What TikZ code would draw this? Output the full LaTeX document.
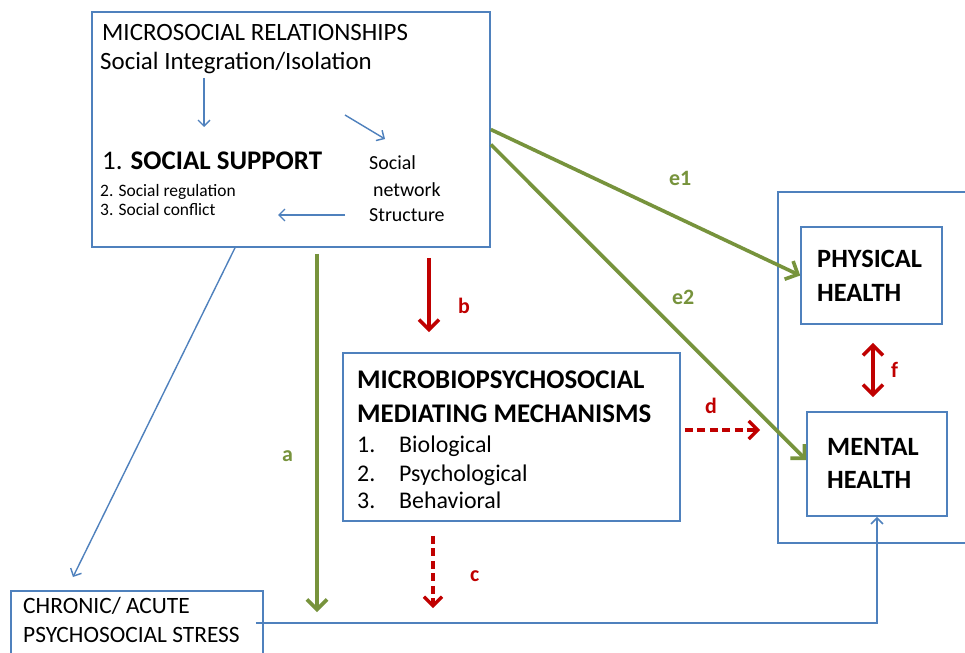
\documentclass[tikz,border=0pt]{standalone}
\usepackage{fontspec}
\setmainfont{Carlito}
\usetikzlibrary{arrows.meta}
\definecolor{frameblue}{RGB}{79,129,189}
\definecolor{pathgreen}{RGB}{119,147,60}
\definecolor{pathred}{RGB}{192,0,0}
\newcommand{\fsz}[1]{\fontsize{#1}{#1}\selectfont}

\begin{document}
\begin{tikzpicture}[x=1bp,y=-1bp,
  panel/.style={draw=frameblue, line width=1.6bp, inner sep=0pt},
  txt/.style={anchor=base west, inner sep=0pt},
  thinarrow/.style={draw=frameblue, line width=1.4bp, -{Straight Barb[length=6bp,width=12bp]}},
  greenarrow/.style={draw=pathgreen, line width=3.6bp, -{Straight Barb[length=10bp,width=20bp]}},
  redarrow/.style={draw=pathred, line width=3.6bp, -{Straight Barb[length=10bp,width=20bp]}},
  reddash/.style={draw=pathred, line width=3.2bp, dash pattern=on 8bp off 4.5bp, -{Straight Barb[length=9bp,width=18bp]}},
  greenlabel/.style={txt, text=pathgreen, font=\fsz{22}\bfseries},
  redlabel/.style={txt, text=pathred, font=\fsz{22}\bfseries}]
\useasboundingbox (0,0) rectangle (965,653);
\clip (0,0) rectangle (965,653);
\fill[white] (0,0) rectangle (965,653);

% boxes
\node[panel, minimum width=398bp, minimum height=235bp] (social) at (291,129.5) {};
\node[panel, minimum width=337bp, minimum height=168bp] (mid) at (511.5,437) {};
\node[panel, minimum width=222bp, minimum height=351bp] (health) at (889,367.5) {};
\node[panel, minimum width=141bp, minimum height=97bp] (physical) at (871.5,275.5) {};
\node[panel, minimum width=140bp, minimum height=104bp] (mental) at (877,464) {};
\node[panel, minimum width=252bp, minimum height=79bp] (stress) at (137,630.5) {};

% microsocial texts
\node[txt, font=\fsz{25}] (msr) at (102,41) {MICROSOCIAL RELATIONSHIPS};
\node[txt, font=\fsz{25}] (integ) at (100,70) {Social Integration/Isolation};
\node[txt, font=\fsz{27}] (support) at (102,170) {1. \textbf{SOCIAL SUPPORT}};
\node[txt, font=\fsz{17.5}] (regul) at (100,196) {2. Social regulation};
\node[txt, font=\fsz{17.5}] (confl) at (100,215) {3. Social conflict};
\node[txt, font=\fsz{20}] (netA) at (369,170) {Social};
\node[txt, font=\fsz{20}] (netB) at (373,196) {network};
\node[txt, font=\fsz{20}] (netC) at (369,221) {Structure};

% mediating texts
\node[txt, font=\fsz{27}\bfseries] (medA) at (357,388) {MICROBIOPSYCHOSOCIAL};
\node[txt, font=\fsz{27}\bfseries] (medB) at (357,422) {MEDIATING MECHANISMS};
\node[txt, font=\fsz{24}] (bioN) at (357,452) {1.};
\node[txt, font=\fsz{24}] (bio) at (399,452) {Biological};
\node[txt, font=\fsz{24}] (psyN) at (357,481) {2.};
\node[txt, font=\fsz{24}] (psy) at (399,481) {Psychological};
\node[txt, font=\fsz{24}] (behN) at (357,508) {3.};
\node[txt, font=\fsz{24}] (beh) at (399,508) {Behavioral};

% health texts
\node[txt, font=\fsz{26.5}\bfseries] (physA) at (817,267) {PHYSICAL};
\node[txt, font=\fsz{26.5}\bfseries] (physB) at (817,301) {HEALTH};
\node[txt, font=\fsz{26.5}\bfseries] (mentA) at (827,455) {MENTAL};
\node[txt, font=\fsz{26.5}\bfseries] (mentB) at (827,488) {HEALTH};

% stress texts
\node[txt, font=\fsz{23.5}] (strA) at (23,613) {CHRONIC/ ACUTE};
\node[txt, font=\fsz{23.5}] (strB) at (23,642) {PSYCHOSOCIAL STRESS};

% path labels
\node[greenlabel] (lblE1) at (669,186) {e1};
\node[greenlabel] (lblE2) at (672,304) {e2};
\node[greenlabel] (lblA) at (282,461) {a};
\node[redlabel] (lblB) at (458,313) {b};
\node[redlabel] (lblC) at (470,581) {c};
\node[redlabel] (lblD) at (705,413) {d};
\node[redlabel] (lblF) at (891,377) {f};

% free ends and guide coordinates
\coordinate (inA) at (204,78);
\coordinate (inB) at (204,127);
\coordinate (inC) at (345,115);
\coordinate (inD) at (385,139);
\coordinate (inE) at (345,215);
\coordinate (inF) at (278,215);
\coordinate (ax) at (317,0);
\coordinate (bx) at (429,0);
\coordinate (cx) at (433,0);
\coordinate (fx) at (873,0);
\coordinate (dx) at (0,430);
\coordinate (diagS) at (235,0);
\coordinate (diagE) at (73,577);
\coordinate (aEnd) at (317,612);
\coordinate (cEnd) at (433,608);
\coordinate (dEnd) at (760,430);

% arrows inside the microsocial box
\draw[thinarrow] (inA) -- (inB);
\draw[thinarrow] (inC) -- (inD);
\draw[thinarrow] (inE) -- (inF);

% green direct paths
\draw[greenarrow] (social.east) -- (physical.west);
\draw[greenarrow] ([yshift=-15bp]social.east) -- ([yshift=4bp]mental.west);
\draw[greenarrow, shorten <=6bp] (social.south -| ax) -- (aEnd);

% red mediated paths
\draw[redarrow, shorten <=10bp, shorten >=20bp] (social.south -| bx) -- (mid.north -| bx);
\draw[reddash, shorten <=14bp] (mid.south -| cx) -- (cEnd);
\draw[reddash, shorten <=4bp] (mid.east |- dx) -- (dEnd);
\draw[draw=pathred, line width=3.6bp, {Straight Barb[length=10bp,width=20bp]}-{Straight Barb[length=10bp,width=20bp]}, shorten <=18bp, shorten >=14bp] (physical.south -| fx) -- (mental.north -| fx);

% stress pathway
\draw[thinarrow] (social.south -| diagS) -- (diagE);
\draw[thinarrow, line width=1.6bp] ([xshift=-8bp,yshift=7.5bp]stress.east) -| (mental.south);
\end{tikzpicture}
\end{document}
